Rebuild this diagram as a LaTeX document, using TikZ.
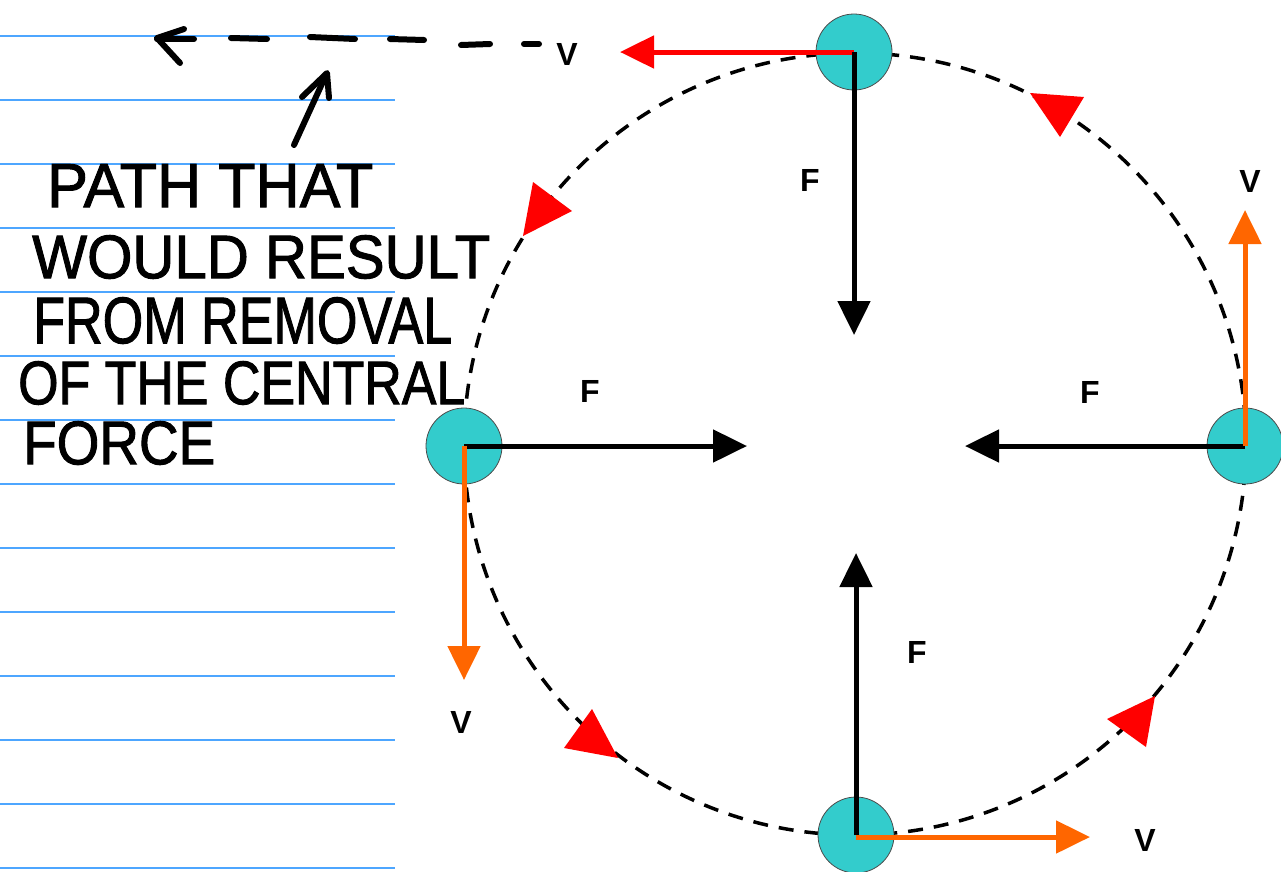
\documentclass[tikz,border=0pt]{standalone}
\usepackage{fontspec}
\usepackage{graphicx}
\setmainfont{Liberation Sans}
\newfontfamily\handfont[FakeBold=1.6]{Liberation Sans}
\usetikzlibrary{arrows.meta}
\definecolor{ball}{RGB}{51,204,204}
\definecolor{ruled}{RGB}{77,166,255}
\definecolor{vred}{RGB}{255,0,0}
\definecolor{vorange}{RGB}{255,102,0}
\tikzset{
  mass/.style={circle,fill=ball,draw=black!70,line width=0.8,minimum size=76,inner sep=0},
  force/.style={line width=5,draw=black,-{Triangle[length=34,width=32]}},
  velred/.style={line width=5,draw=vred,-{Triangle[length=34,width=32]}},
  velorange/.style={line width=5,draw=vorange,-{Triangle[length=34,width=32]}},
  lbl/.style={font=\fontsize{32}{36}\selectfont\bfseries,inner sep=0},
  hand/.style={anchor=north west,inner sep=0,font=\handfont},
  pen/.style={line width=6,line cap=round,line join=round,draw=black},
  marker/.style={fill=vred,draw=none},
  orbit/.style={line width=3.5,dash pattern=on 15 off 11,draw=black},
}
\begin{document}
\begin{tikzpicture}[x=1pt,y=-1pt]
\useasboundingbox (0,0) rectangle (1281,871);
\fill[white] (0,0) rectangle (1281,871);
% ruled lines
\foreach \k in {0,...,13}{
  \draw[ruled,line width=2] (0,36+64*\k) -- (395,36+64*\k);
}
% orbit
\draw[orbit] (855,444) circle[radius=391];
% direction markers
\path[marker] (533,182) -- (572,211) -- (523,236) -- cycle;
\path[marker] (1030,93) -- (1084,97) -- (1060,137) -- cycle;
\path[marker] (592,709) -- (564,748) -- (618,758) -- cycle;
\path[marker] (1107,719) -- (1155,696) -- (1146,747) -- cycle;
% masses
\node[mass] (top) at (854,52) {};
\node[mass] (left) at (464,446) {};
\node[mass] (right) at (1245,446) {};
\node[mass] (bottom) at (856,835) {};
% arrow ends
\coordinate (topF) at (854,335);
\coordinate (topV) at (620,52);
\coordinate (leftF) at (747,446);
\coordinate (leftV) at (464,680);
\coordinate (rightF) at (965,446);
\coordinate (rightV) at (1245,210);
\coordinate (bottomF) at (856,553);
\coordinate (bottomV) at (1090,837);
\draw[velred] (top.center) -- (topV);
\draw[force] (top.center) -- (topF);
\draw[force] (left.center) -- (leftF);
\draw[velorange] (left.center) -- (leftV);
\draw[force] (right.center) -- (rightF);
\draw[velorange] (right.center) -- (rightV);
\draw[force] (bottom.center) -- (bottomF);
\draw[velorange] (bottom.center |- bottomV) -- (bottomV);
% labels
\node[lbl] (lFt) at (810,180) {F};
\node[lbl] (lVt) at (567,54) {V};
\node[lbl] (lFl) at (590,391) {F};
\node[lbl] (lVl) at (461,722) {V};
\node[lbl] (lFr) at (1090,392) {F};
\node[lbl] (lVr) at (1250,181) {V};
\node[lbl] (lFb) at (917,652) {F};
\node[lbl] (lVb) at (1145,840) {V};
% handwritten note
\node[hand] (h1) at (47,164) {\resizebox{326pt}{43pt}{PATH THAT}};
\node[hand] (h2) at (32,235) {\resizebox{458pt}{43pt}{WOULD RESULT}};
\node[hand] (h3) at (33,297) {\resizebox{419pt}{46pt}{FROM REMOVAL}};
\node[hand] (h4) at (18,361) {\resizebox{447pt}{43pt}{OF THE CENTRAL}};
\node[hand] (h5) at (23,421) {\resizebox{192pt}{43pt}{FORCE}};
% handwritten straight path
\draw[pen] (184,29) -- (157,38) -- (180,63);
\draw[pen] (157,39) -- (194,39);
\draw[pen] (231,38) -- (267,39);
\draw[pen] (310,37) -- (355,39);
\draw[pen] (390,39) -- (424,40);
\draw[pen] (461,45) -- (490,44);
\draw[pen] (524,44) -- (539,44);
\draw[pen] (294,145) -- (326,75);
\draw[pen] (302,97) -- (327,73) -- (329,98);
\end{tikzpicture}
\end{document}
